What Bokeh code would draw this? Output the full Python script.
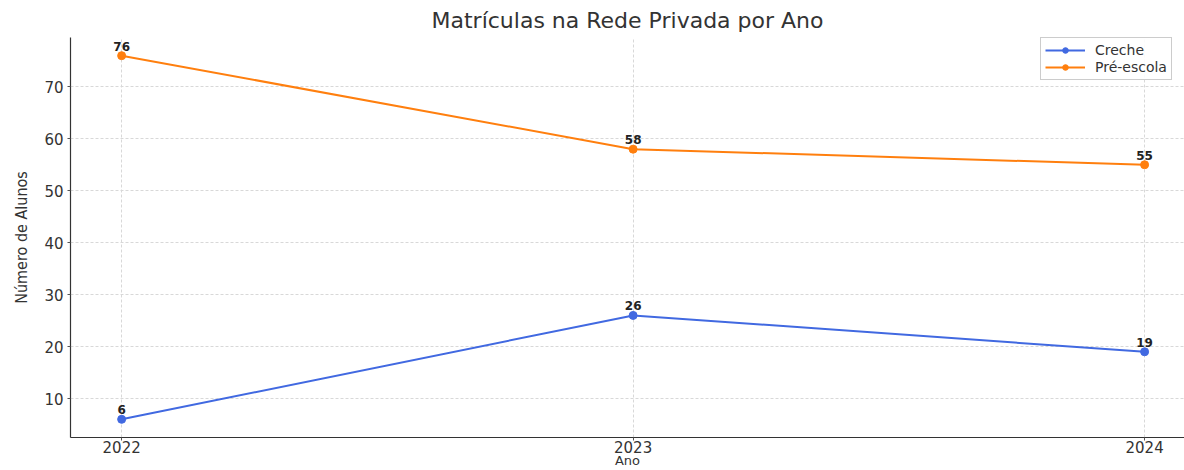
from bokeh.plotting import figure
from bokeh.models import ColumnDataSource, Range1d, FixedTicker, Legend, LegendItem
from bokeh.embed import file_html
from bokeh.resources import INLINE
from bokeh.core.properties import value

years = [2022, 2023, 2024]
creche = [6, 26, 19]
pre_escola = [76, 58, 55]
y_ticks = [10, 20, 30, 40, 50, 60, 70]
title = "Matrículas na Rede Privada por Ano"

blue = "#4169e1"
orange = "#ff7f0e"
font = "DejaVu Sans"

p = figure(width=1184, height=470, output_backend="svg", toolbar_location=None,
           x_range=Range1d(2021.9, 2024.078), y_range=Range1d(2.5, 79.5),
           min_border_left=70, min_border_right=0, min_border_top=35, min_border_bottom=26)
p.title.text = title
p.title.align = "center"
p.title.text_font = font
p.title.text_font_size = "22px"
p.title.text_font_style = "normal"
p.title.text_color = "#333333"
p.title.offset = 0

p.outline_line_color = None
p.background_fill_color = "white"

for ax in (p.xaxis[0], p.yaxis[0]):
    ax.axis_line_color = "#333333"
    ax.axis_line_width = 1.2
    ax.major_tick_line_color = "#555555"
    ax.minor_tick_line_color = None
    ax.major_tick_out = 3
    ax.major_tick_in = 0
    ax.major_label_text_font = font
    ax.major_label_text_font_size = "15px"
    ax.major_label_text_color = "#333333"
    ax.axis_label_text_font_style = "normal"
    ax.axis_label_text_color = "#333333"

p.xaxis.ticker = FixedTicker(ticks=years)
p.yaxis.ticker = FixedTicker(ticks=y_ticks)
p.xaxis.axis_label = "Ano"
p.xaxis.axis_label_text_font = font
p.xaxis.axis_label_text_font_size = "13px"
p.xaxis.axis_label_standoff = -3
p.xaxis.major_label_standoff = 0
p.yaxis.axis_label = "Número de Alunos"
p.yaxis.axis_label_text_font = "DejaVu Sans Condensed"
p.yaxis.axis_label_text_font_size = "16px"
p.yaxis.axis_label_standoff = 10
p.yaxis.major_label_standoff = 4

p.grid.grid_line_color = "#d8d8d8"
p.grid.grid_line_dash = "3 2"
p.grid.grid_line_width = 1

src = ColumnDataSource(dict(x=years, c=creche, pe=pre_escola,
                            cl=[str(v) for v in creche], pl=[str(v) for v in pre_escola]))

l1 = p.line("x", "c", source=src, line_color=blue, line_width=2)
m1 = p.scatter("x", "c", source=src, size=8, fill_color=blue, line_color=blue)
l2 = p.line("x", "pe", source=src, line_color=orange, line_width=2)
m2 = p.scatter("x", "pe", source=src, size=8, fill_color=orange, line_color=orange)

for col, lab in (("c", "cl"), ("pe", "pl")):
    p.text(x="x", y=col, text=lab, source=src, text_font=value(font), text_font_size="12px",
           text_font_style="bold", text_color="#222222", text_align="center",
           text_baseline="bottom", y_offset=-5)

legend = Legend(items=[LegendItem(label="Creche", renderers=[l1, m1]),
                       LegendItem(label="Pré-escola", renderers=[l2, m2])],
                location=(970, 357))
legend.label_text_font = font
legend.label_text_font_size = "14px"
legend.label_text_color = "#333333"
legend.border_line_color = "#cccccc"
legend.border_line_alpha = 1
legend.background_fill_alpha = 0.9
legend.glyph_width = 40
legend.glyph_height = 14
legend.label_height = 14
legend.spacing = 1
legend.padding = 4
legend.margin = 0
legend.label_standoff = 10
p.add_layout(legend)

open("out.html", "w").write(file_html(p, INLINE))
